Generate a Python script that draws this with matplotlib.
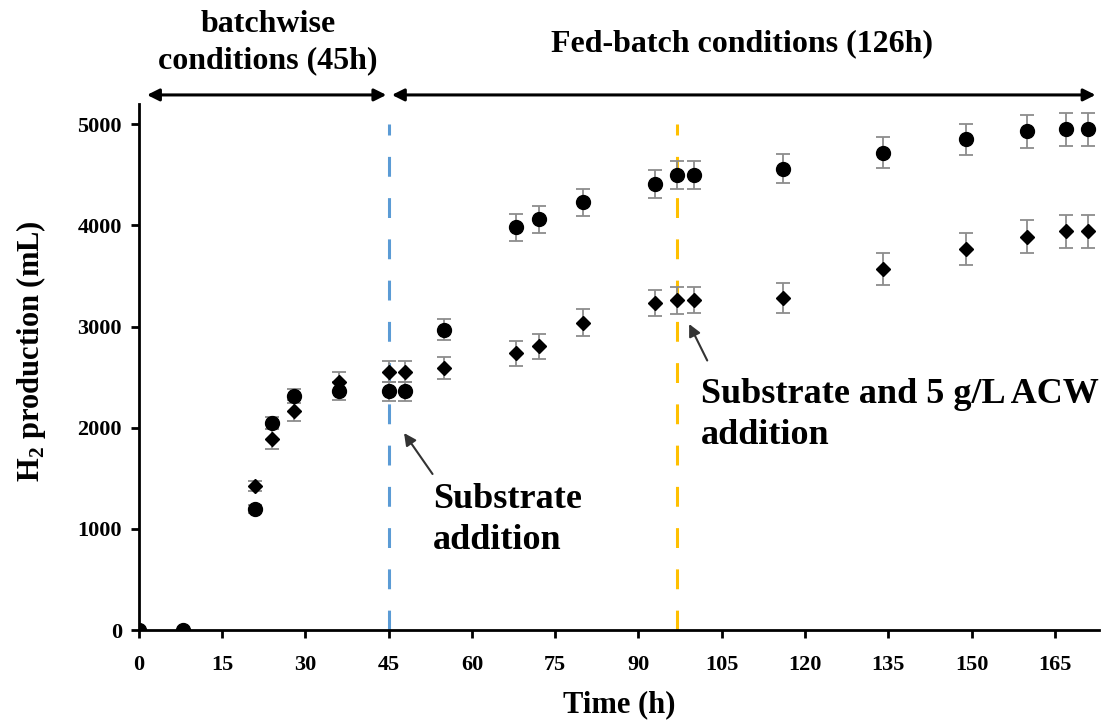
import matplotlib
matplotlib.use('Agg')
import matplotlib.pyplot as plt

# sampling times (h)
time_h = [0, 8, 21, 24, 28, 36, 45, 48, 55, 68, 72, 80, 93, 97, 100, 116, 134, 149, 160, 167, 171]

# circles series
h2_circle = [0, 0, 1200, 2050, 2310, 2360, 2360, 2360, 2970, 3980, 4060, 4230,
             4410, 4500, 4500, 4560, 4720, 4850, 4930, 4950, 4950]
err_circle = [0, 0, 40, 60, 70, 90, 95, 95, 100, 135, 135, 135,
              140, 140, 140, 145, 150, 150, 165, 165, 165]

# diamonds series
h2_diamond = [0, 0, 1420, 1890, 2170, 2450, 2555, 2555, 2590, 2735, 2805, 3040,
              3230, 3260, 3260, 3285, 3570, 3770, 3890, 3940, 3940]
err_diamond = [0, 0, 50, 100, 105, 100, 105, 105, 110, 120, 125, 130,
               130, 135, 130, 150, 155, 160, 165, 165, 165]

x_ticks = list(range(0, 166, 15))
y_ticks = [0, 1000, 2000, 3000, 4000, 5000]

plt.rcParams['font.family'] = ['Liberation Serif', 'DejaVu Serif']
plt.rcParams['font.weight'] = 'bold'
plt.rcParams['mathtext.fontset'] = 'custom'
plt.rcParams['mathtext.rm'] = 'Liberation Serif:bold'

fig = plt.figure(figsize=(11.12, 7.23), dpi=100)
ax = fig.add_axes([0.1247, 0.1286, 0.864, 0.7275])

ax.errorbar(time_h, h2_circle, yerr=err_circle, fmt='o', color='black', ms=10,
            ecolor='#8c8c8c', elinewidth=1.3, capsize=5, capthick=1.3, zorder=3)
ax.errorbar(time_h, h2_diamond, yerr=err_diamond, fmt='D', color='black', ms=7,
            ecolor='#8c8c8c', elinewidth=1.3, capsize=5, capthick=1.3, zorder=3)

# feeding events
ax.plot([45, 45], [0, 5000], color='#5b9bd5', lw=2.2, dashes=(6.5, 7), zorder=2)
ax.plot([97, 97], [0, 5000], color='#ffc000', lw=2.2, dashes=(6.5, 7), zorder=2)

ax.set_xlim(0, 173)
ax.set_ylim(0, 5200)
ax.set_xticks(x_ticks)
ax.set_yticks(y_ticks)
ax.tick_params(labelsize=16, width=2, length=6, direction='out')
ax.tick_params(axis='x', pad=12)
ax.tick_params(axis='y', pad=6)
for lab in ax.get_xticklabels() + ax.get_yticklabels():
    lab.set_fontweight('bold')
for s in ['top', 'right']:
    ax.spines[s].set_visible(False)
for s in ['left', 'bottom']:
    ax.spines[s].set_linewidth(2)

ax.set_xlabel('Time (h)', fontsize=22, fontweight='bold', labelpad=11)
ax.set_ylabel(r'H$_\mathrm{2}$ production (mL)', fontsize=22, fontweight='bold')
ax.yaxis.set_label_coords(-0.094, 0.53)

# annotations with arrows
ax.annotate('', xy=(47.5, 1970), xytext=(53.2, 1520),
            arrowprops=dict(arrowstyle='-|>', color='#333333', lw=1.5, mutation_scale=18))
ax.text(53.0, 1450, 'Substrate\naddition', fontsize=26, fontweight='bold',
        ha='left', va='top', linespacing=1.3)

ax.annotate('', xy=(98.9, 3050), xytext=(102.6, 2640),
            arrowprops=dict(arrowstyle='-|>', color='#333333', lw=1.5, mutation_scale=18))
ax.text(101.3, 2490, 'Substrate and 5 g/L ACW\naddition', fontsize=26, fontweight='bold',
        ha='left', va='top', linespacing=1.3)

# phase arrows above the plot
ax.annotate('', xy=(1.5, 5290), xytext=(44.6, 5290), annotation_clip=False,
            arrowprops=dict(arrowstyle='<|-|>', color='black', lw=2.2, mutation_scale=18,
                            shrinkA=0, shrinkB=0))
ax.annotate('', xy=(45.6, 5290), xytext=(172.3, 5290), annotation_clip=False,
            arrowprops=dict(arrowstyle='<|-|>', color='black', lw=2.2, mutation_scale=18,
                            shrinkA=0, shrinkB=0))

fig.text(268 / 1112, 1 - 32 / 723, 'batchwise', fontsize=23, fontweight='bold',
         ha='center', va='baseline')
fig.text(268 / 1112, 1 - 68 / 723, 'conditions (45h)', fontsize=23, fontweight='bold',
         ha='center', va='baseline')
fig.text(742 / 1112, 1 - 51 / 723, 'Fed-batch conditions (126h)', fontsize=23,
         fontweight='bold', ha='center', va='baseline')

fig.savefig('out.png', dpi=100, facecolor='white')
